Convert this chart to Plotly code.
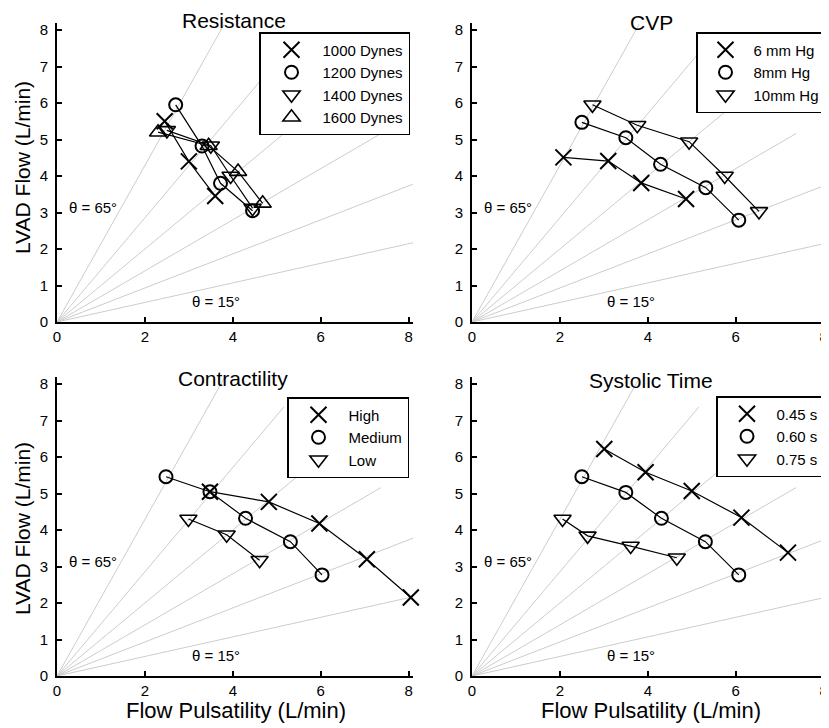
import numpy as np
import plotly.graph_objects as go

# ---------------- data ----------------
ray_angles_deg = [15, 25, 35, 45, 55, 65]
ray_length = 9.0

panel_titles = ["Resistance", "CVP", "Contractility", "Systolic Time"]
x_tick_vals = [0, 2, 4, 6, 8]
y_tick_vals = [0, 1, 2, 3, 4, 5, 6, 7, 8]

# Resistance panel
res_names = ["1000 Dynes", "1200 Dynes", "1400 Dynes", "1600 Dynes"]
res_1000_x = [2.45, 3.00, 3.60]
res_1000_y = [5.50, 4.40, 3.45]
res_1200_x = [2.70, 3.30, 3.72, 4.45]
res_1200_y = [5.95, 4.82, 3.80, 3.05]
res_1400_x = [2.50, 3.50, 3.95, 4.45]
res_1400_y = [5.25, 4.83, 4.00, 3.12]
res_1600_x = [2.30, 3.45, 4.12, 4.68]
res_1600_y = [5.20, 4.83, 4.12, 3.25]

# CVP panel
cvp_names = ["6 mm Hg", "8mm Hg", "10mm Hg"]
cvp_6_x = [2.08, 3.10, 3.85, 4.87]
cvp_6_y = [4.51, 4.41, 3.81, 3.37]
cvp_8_x = [2.50, 3.50, 4.29, 5.32, 6.07]
cvp_8_y = [5.47, 5.05, 4.32, 3.68, 2.79]
cvp_10_x = [2.74, 3.76, 4.94, 5.75, 6.53]
cvp_10_y = [5.95, 5.39, 4.94, 4.00, 3.03]

# Contractility panel
con_names = ["High", "Medium", "Low"]
con_high_x = [3.48, 4.82, 5.97, 7.05, 8.05]
con_high_y = [5.05, 4.77, 4.18, 3.20, 2.15]
con_med_x = [2.48, 3.48, 4.29, 5.31, 6.03]
con_med_y = [5.46, 5.05, 4.32, 3.68, 2.77]
con_low_x = [2.99, 3.86, 4.61]
con_low_y = [4.30, 3.87, 3.17]

# Systolic time panel
sys_names = ["0.45 s", "0.60 s", "0.75 s"]
sys_045_x = [3.01, 3.95, 5.00, 6.13, 7.19]
sys_045_y = [6.22, 5.58, 5.07, 4.34, 3.38]
sys_060_x = [2.50, 3.50, 4.31, 5.31, 6.07]
sys_060_y = [5.46, 5.03, 4.32, 3.68, 2.77]
sys_075_x = [2.06, 2.63, 3.61, 4.66]
sys_075_y = [4.30, 3.84, 3.56, 3.24]

panels = [
    (res_names, [(res_1000_x, res_1000_y), (res_1200_x, res_1200_y),
                 (res_1400_x, res_1400_y), (res_1600_x, res_1600_y)]),
    (cvp_names, [(cvp_6_x, cvp_6_y), (cvp_8_x, cvp_8_y), (cvp_10_x, cvp_10_y)]),
    (con_names, [(con_high_x, con_high_y), (con_med_x, con_med_y), (con_low_x, con_low_y)]),
    (sys_names, [(sys_045_x, sys_045_y), (sys_060_x, sys_060_y), (sys_075_x, sys_075_y)]),
]

# ---------------- styling ----------------
OFF = 8  # page body margin offset
W, H = 829 - OFF, 728 - OFF
FONT = "Arial, Liberation Sans, Helvetica, sans-serif"
marker_styles = [
    dict(symbol="x-thin-open", size=16, line=dict(width=2, color="black")),
    dict(symbol="circle-open", size=13, line=dict(width=2, color="black")),
    dict(symbol="triangle-down-open", size=15, line=dict(width=1.6, color="black")),
    dict(symbol="triangle-up-open", size=15, line=dict(width=1.6, color="black")),
]


def px_x(p):
    return (p - OFF) / W


def px_y(p):
    return 1 - (p - OFF) / H


# pixel layout of the four panels in the target page: (left, right, bottom, top)
px_boxes = [
    (57, 413, 322, 22.7),
    (472, 828, 322, 22.7),
    (57, 413, 676, 376.7),
    (472, 828, 676, 376.7),
]
legend_pos = [(259, 32), (696, 32), (287, 397), (716, 396)]
legend_itemwidth = [52, 46, 50, 49]
title_pos = [(234, 20), (651, 22), (233, 379), (651, 380)]

fig = go.Figure()
layout = dict(
    width=W, height=H,
    margin=dict(l=0, r=0, t=0, b=0),
    paper_bgcolor="white", plot_bgcolor="white",
    font=dict(family=FONT, color="black"),
    showlegend=True,
    template="none",
)

ray_rad = np.deg2rad(ray_angles_deg)
annotations = []
for i, (names, series) in enumerate(panels):
    k = "" if i == 0 else str(i + 1)
    xa, ya = "x" + k, "y" + k
    lg = "legend" if i == 0 else "legend" + str(i + 1)
    l, r, b, t = px_boxes[i]
    layout["xaxis" + k] = dict(
        domain=[px_x(l), min(px_x(r), 1.0)], range=[0, 8.1], anchor=ya,
        showline=True, linecolor="black", linewidth=2,
        ticks="inside", ticklen=5, tickwidth=1.5, tickcolor="black",
        tickvals=x_tick_vals, showgrid=False, zeroline=False,
        tickfont=dict(size=15, family=FONT), automargin=False, fixedrange=True,
    )
    layout["yaxis" + k] = dict(
        domain=[px_y(b), px_y(t)], range=[0, 8.2], anchor=xa,
        showline=True, linecolor="black", linewidth=2,
        ticks="inside", ticklen=5, tickwidth=1.5, tickcolor="black",
        tickvals=y_tick_vals, showgrid=False, zeroline=False, ticklabelstandoff=4,
        tickfont=dict(size=15, family=FONT), automargin=False, fixedrange=True,
    )
    # reference rays
    for a in ray_rad:
        fig.add_trace(go.Scatter(
            x=[0, ray_length * np.cos(a)], y=[0, ray_length * np.sin(a)],
            mode="lines", line=dict(color="#cccccc", width=1),
            showlegend=False, hoverinfo="skip", xaxis=xa, yaxis=ya))
    # data series
    for j, (sx, sy) in enumerate(series):
        fig.add_trace(go.Scatter(
            x=sx, y=sy, mode="lines+markers",
            line=dict(color="black", width=1.2),
            marker=dict(color="black", **marker_styles[j]),
            showlegend=False, xaxis=xa, yaxis=ya, cliponaxis=False))
    # legend entries (markers only)
    for j, nm in enumerate(names):
        fig.add_trace(go.Scatter(
            x=[None], y=[None], mode="markers", name=nm,
            marker=dict(color="black", **marker_styles[j]),
            legend=lg, xaxis=xa, yaxis=ya))
    lx, ly = legend_pos[i]
    layout[lg] = dict(
        x=px_x(lx), y=px_y(ly), xanchor="left", yanchor="top",
        bgcolor="white", bordercolor="black", borderwidth=1.5,
        font=dict(size=15, family=FONT, color="black"),
        itemwidth=legend_itemwidth[i], tracegroupgap=0,
        itemclick=False, itemdoubleclick=False,
    )
    # panel title
    tx, ty = title_pos[i]
    annotations.append(dict(
        text=panel_titles[i], x=px_x(tx), y=px_y(ty), xref="paper", yref="paper",
        xanchor="center", yanchor="middle", showarrow=False,
        font=dict(size=21, family=FONT, color="black")))
    # theta labels
    annotations.append(dict(
        text="θ = 65°", x=0.83, y=3.15, xref=xa, yref=ya, showarrow=False,
        xanchor="center", yanchor="middle", font=dict(size=15, family=FONT)))
    annotations.append(dict(
        text="θ = 15°", x=3.62, y=0.57, xref=xa, yref=ya, showarrow=False,
        xanchor="center", yanchor="middle", font=dict(size=15, family=FONT)))

# axis titles
for yc in (168, 529):
    annotations.append(dict(
        text="LVAD Flow (L/min)", x=px_x(22), y=px_y(yc), xref="paper", yref="paper",
        textangle=-90, showarrow=False, xanchor="center", yanchor="middle",
        font=dict(size=21, family=FONT)))
for xc in (236, 651):
    annotations.append(dict(
        text="Flow Pulsatility (L/min)", x=px_x(xc), y=px_y(710), xref="paper", yref="paper",
        showarrow=False, xanchor="center", yanchor="middle",
        font=dict(size=22, family=FONT)))

layout["annotations"] = annotations
fig.update_layout(**layout)
fig.write_html("out.html")
